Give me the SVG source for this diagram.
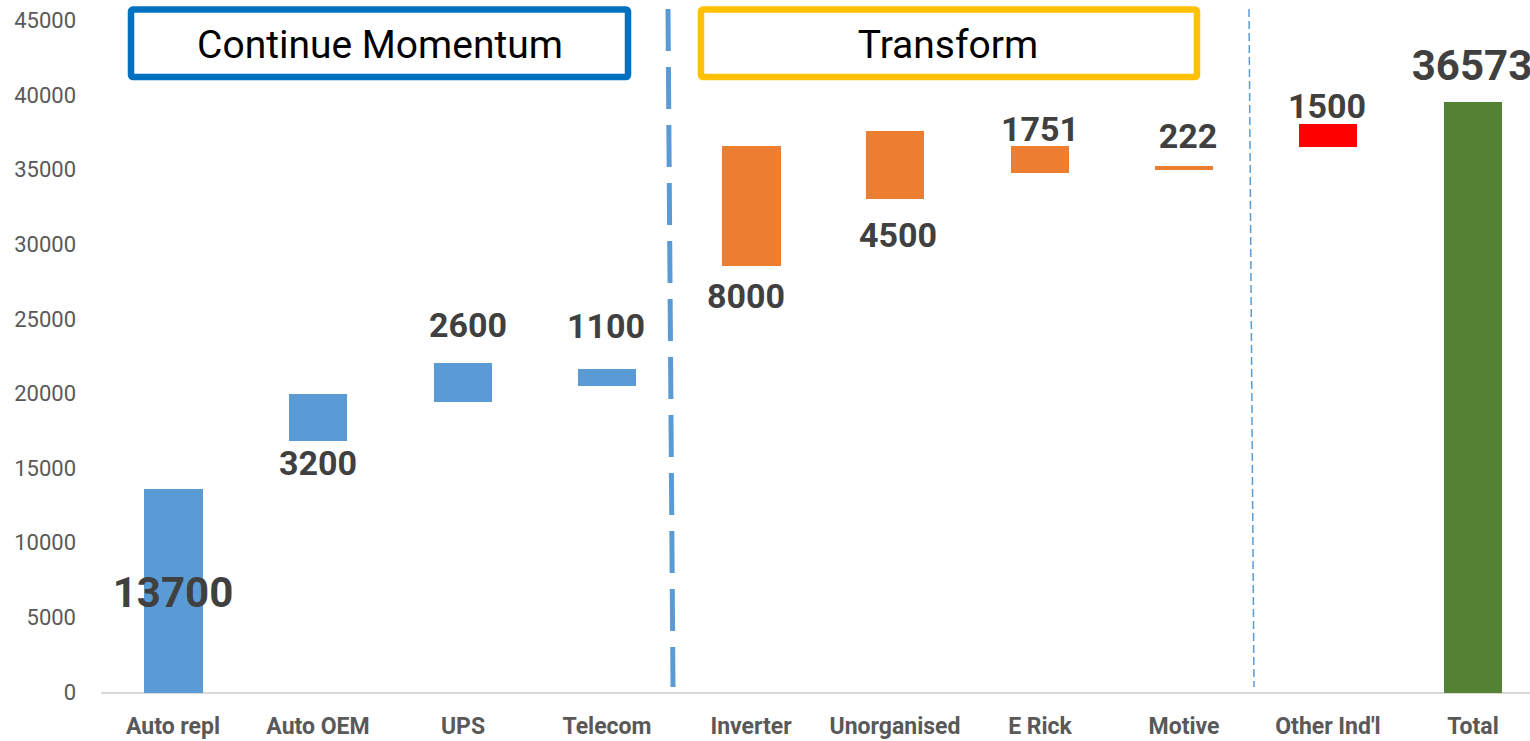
<svg xmlns="http://www.w3.org/2000/svg" width="1530" height="741" viewBox="0 0 1530 741">
<style>
.ax{font-family:Roboto,"Liberation Sans",sans-serif;font-size:22px;fill:#595959;text-anchor:end}
.cat{font-family:Roboto,"Liberation Sans",sans-serif;font-size:23px;font-weight:bold;fill:#595959;text-anchor:middle}
.dl{font-family:Roboto,"Liberation Sans",sans-serif;font-weight:bold;fill:#404040;text-anchor:middle}
.big{font-size:42px}
.mid{font-size:34px}
.ttl{font-family:Roboto,"Liberation Sans",sans-serif;font-size:39px;fill:#000;text-anchor:middle}
.blue{fill:#5B9BD5}
.orange{fill:#ED7D31}
</style>
<rect width="1530" height="741" fill="#fff"/>
<g id="axis">
<text class="ax" x="76" y="28">45000</text>
<text class="ax" x="76" y="103">40000</text>
<text class="ax" x="76" y="177">35000</text>
<text class="ax" x="76" y="252">30000</text>
<text class="ax" x="76" y="327">25000</text>
<text class="ax" x="76" y="401">20000</text>
<text class="ax" x="76" y="476">15000</text>
<text class="ax" x="76" y="550">10000</text>
<text class="ax" x="76" y="625">5000</text>
<text class="ax" x="76" y="700">0</text>
<line x1="101" y1="693" x2="1530" y2="693" stroke="#D9D9D9" stroke-width="2"/>
</g>
<g id="categories">
<text class="cat" x="173" y="734">Auto repl</text>
<text class="cat" x="318" y="734">Auto OEM</text>
<text class="cat" x="463" y="734">UPS</text>
<text class="cat" x="607" y="734">Telecom</text>
<text class="cat" x="751" y="734">Inverter</text>
<text class="cat" x="895" y="734">Unorganised</text>
<text class="cat" x="1040" y="734">E Rick</text>
<text class="cat" x="1184" y="734">Motive</text>
<text class="cat" x="1328" y="734">Other Ind'l</text>
<text class="cat" x="1473" y="734">Total</text>
</g>
<g id="bar-auto-repl"><rect class="blue" x="144" y="489" width="59" height="204"/><text class="dl big" x="173" y="607">13700</text></g>
<g id="bar-auto-oem"><rect class="blue" x="289" y="394" width="58" height="47"/><text class="dl mid" x="318" y="475">3200</text></g>
<g id="bar-ups"><rect class="blue" x="434" y="363" width="58" height="39"/><text class="dl mid" x="468" y="337">2600</text></g>
<g id="bar-telecom"><rect class="blue" x="578" y="369" width="58" height="17"/><text class="dl mid" x="606" y="338">1100</text></g>
<g id="bar-inverter"><rect class="orange" x="722" y="146" width="59" height="120"/><text class="dl mid" x="746" y="308">8000</text></g>
<g id="bar-unorganised"><rect class="orange" x="866" y="131" width="58" height="68"/><text class="dl mid" x="898" y="247">4500</text></g>
<g id="bar-erick"><rect class="orange" x="1011" y="146" width="58" height="27"/><text class="dl mid" x="1040" y="141">1751</text></g>
<g id="bar-motive"><rect class="orange" x="1155" y="166" width="58" height="4"/><text class="dl mid" x="1188" y="148">222</text></g>
<g id="bar-other"><rect fill="#FF0000" x="1299" y="124" width="58" height="23"/><text class="dl mid" x="1327" y="118">1500</text></g>
<g id="bar-total"><rect fill="#548235" x="1444" y="102" width="58" height="591"/><text class="dl big" x="1472" y="80">36573</text></g>
<g id="box-continue"><rect x="131" y="9.5" width="497" height="67.5" rx="2" fill="none" stroke="#0070C0" stroke-width="6.5"/><text class="ttl" x="380" y="58">Continue Momentum</text></g>
<g id="box-transform"><rect x="701" y="9.5" width="496" height="67.5" rx="2" fill="none" stroke="#FFC000" stroke-width="6.5"/><text class="ttl" x="948" y="58">Transform</text></g>
<g id="connectors">
<line x1="668" y1="9" x2="673" y2="687" stroke="#5B9BD5" stroke-width="5" stroke-dasharray="42 16"/>
<line x1="1249" y1="9" x2="1254" y2="687" stroke="#5B9BD5" stroke-width="1.5" stroke-dasharray="8 4"/>
</g>
</svg>
